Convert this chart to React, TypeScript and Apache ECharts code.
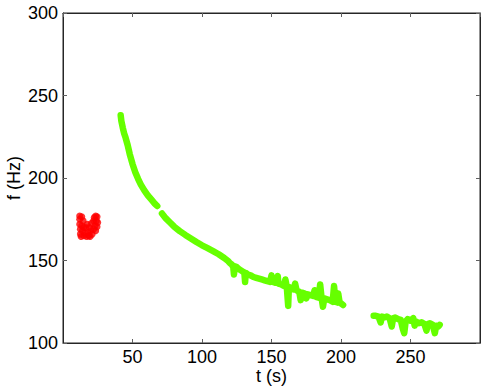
import React, { useEffect, useRef } from "react";
import * as echarts from "echarts";

// x axis (t, s) and y axis (f, Hz)
const X_MIN = 0;
const X_MAX = 300;
const X_STEP = 50;
const Y_MIN = 100;
const Y_MAX = 300;
const Y_STEP = 50;

// red cluster [t, f]
const redPoints: number[][] = [
  [12, 177], [12, 175], [12, 172], [12.5, 169], [12.5, 166], [13, 164.5],
  [13.5, 176.5], [13.5, 171], [14, 168], [14.5, 174], [15, 165], [15, 170],
  [16, 166.5], [16.5, 170], [17, 164.5], [17.5, 172], [18, 167], [18.5, 165],
  [19, 170], [19.5, 164.5], [20, 168], [20.5, 172.5], [21, 166],
  [22, 169], [22, 174], [22.5, 176], [23, 171], [23.5, 177], [23.5, 168],
  [24, 174], [24.5, 170.5], [24.5, 176.5], [25, 173],
];

// green track, first piece [t, f]
const greenPart1: number[][] = [
  [41.5, 238], [42, 234.5], [43, 230.5], [44, 227], [45, 224.5], [46.5, 220],
  [48, 214.5], [50, 208.5], [52, 203.5], [54, 199.5], [56, 196], [58.5, 192.5],
  [61, 189.5], [63.5, 187], [66, 184.5], [67.8, 183],
];

// green track, second piece [t, f]
const greenPart2: number[][] = [
  [71.2, 178.5], [74, 175.5], [77, 173], [80, 170.5], [84, 167.8], [88, 165.5],
  [92, 163.4], [96, 161.2], [100, 159.2], [104, 157.5], [108, 155.7], [112, 153.8],
  [116, 151.5], [119, 149.5], [120, 148.5], [121.5, 147.5], [122.5, 146], [123, 141.5],
  [123.5, 146.5], [125, 146], [127, 144.5], [129, 143.5], [130.5, 142.5], [131, 137],
  [131.5, 142.5], [133, 141.5], [135, 141], [137, 140], [139, 139.5], [141, 139],
  [143, 138.5], [145, 138], [147, 137.5], [149, 137], [150, 141], [151, 137],
  [153, 136.5], [154.5, 140.5], [155, 136], [157, 135.5], [159, 134.5], [160, 138.5],
  [161, 134], [162, 122.5], [162.5, 134], [164, 133], [166, 132.5], [167, 136],
  [168, 132], [170, 131], [171, 126], [172, 130.5], [174, 130], [175, 127],
  [176, 129.5], [178, 129], [180, 128.5], [181, 132], [182, 128], [184, 127.5],
  [185, 135.5], [186, 127.5], [187, 122], [188, 127], [190, 126.5], [192, 126],
  [194, 125], [195, 134.5], [196, 125], [197.5, 124.5], [198, 130], [199, 124.5],
  [200, 124], [201.5, 123],
];

// green track, third piece [t, f]
const greenPart3: number[][] = [
  [223.5, 116.5], [225, 116.5], [227, 116], [228.5, 112.5], [229.5, 116], [231, 115.5],
  [233, 116], [235, 115], [236.5, 110], [237.5, 115], [239, 115.5], [241, 114.5],
  [243, 114], [244.5, 108.5], [245.5, 106], [246.5, 113], [248, 114.5], [250, 113.5],
  [252, 115], [253, 110.5], [254, 113], [256, 112], [258, 112.5], [260, 111.5],
  [261.5, 107.5], [262.5, 111.5], [264, 112], [266, 111], [267.5, 106], [268.5, 110.5],
  [270, 110], [271, 111],
];

const X_NAME = "t (s)";
const Y_NAME = "f (Hz)";

const FONT = "'Liberation Sans', Arial, Helvetica, sans-serif";
const GREEN = "#66ff00";
const RED = "#ff0000";
const AXIS = "#262626";
const TICK = "#606060";

export default function App() {
  const ref = useRef<HTMLDivElement>(null);

  useEffect(() => {
    document.body.style.margin = "0";
    if (!ref.current) return;
    const chart = echarts.init(ref.current, undefined, { renderer: "svg" });

    const makeAxis = (extra: any) => ({
      type: "value",
      show: true,
      splitLine: { show: false },
      axisLine: { show: true, onZero: false, lineStyle: { color: AXIS, width: 1 } },
      axisTick: { show: true, inside: true, length: 4, lineStyle: { color: TICK, width: 1 } },
      nameMoveOverlap: false,
      ...extra,
    });

    const greenLine = (data: number[][]) => ({
      type: "line",
      data,
      showSymbol: false,
      symbol: "none",
      silent: true,
      lineStyle: { color: GREEN, width: 6.5, cap: "round", join: "round" },
      z: 2,
    });

    chart.setOption({
      animation: false,
      grid: {
        left: 63,
        right: 4,
        top: 13,
        bottom: 45,
        containLabel: false,
        outerBoundsMode: "none",
        show: true,
        borderColor: AXIS,
        borderWidth: 1,
        backgroundColor: "transparent",
      },
      xAxis: [
        makeAxis({
          min: X_MIN,
          max: X_MAX,
          interval: X_STEP,
          position: "bottom",
          name: X_NAME,
          nameLocation: "middle",
          nameGap: 24,
          nameTextStyle: { color: "#000", fontSize: 18, fontFamily: FONT },
          axisLabel: {
            show: true,
            showMinLabel: false,
            showMaxLabel: false,
            color: "#000",
            fontSize: 18,
            fontFamily: FONT,
            margin: 5,
          },
        }),
        makeAxis({
          min: X_MIN,
          max: X_MAX,
          interval: X_STEP,
          position: "top",
          axisLabel: { show: false },
        }),
      ],
      yAxis: [
        makeAxis({
          min: Y_MIN,
          max: Y_MAX,
          interval: Y_STEP,
          position: "left",
          name: Y_NAME,
          nameLocation: "middle",
          nameGap: 40,
          nameTextStyle: { color: "#000", fontSize: 18, fontFamily: FONT },
          axisLabel: {
            show: true,
            color: "#000",
            fontSize: 18,
            fontFamily: FONT,
            margin: 5,
          },
        }),
        makeAxis({
          min: Y_MIN,
          max: Y_MAX,
          interval: Y_STEP,
          position: "right",
          axisLabel: { show: false },
        }),
      ],
      series: [
        greenLine(greenPart1),
        greenLine(greenPart2),
        greenLine(greenPart3),
        {
          type: "scatter",
          data: redPoints,
          symbol: "circle",
          symbolSize: 7,
          silent: true,
          itemStyle: { color: RED },
          z: 3,
        },
      ],
    });

    return () => chart.dispose();
  }, []);

  return <div ref={ref} style={{ width: 484, height: 388 }} />;
}
